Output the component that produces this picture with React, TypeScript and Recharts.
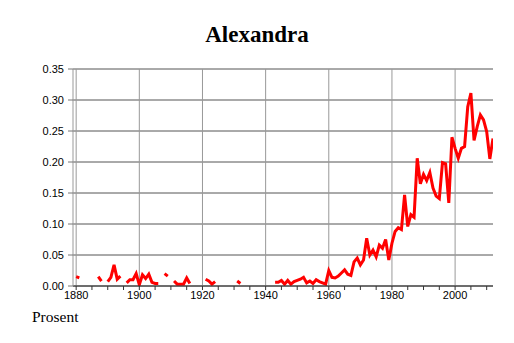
import React from "react";
import { LineChart, Line, XAxis, YAxis, CartesianGrid, ReferenceLine } from "recharts";

const startYear = 1880;
const shares1880s = [0.015, 0.013, null, null, null, null, null, 0.015, 0.008, null];
const shares1890s = [0.007, 0.014, 0.034, 0.011, 0.016, null, 0.005, 0.01, 0.01, 0.02];
const shares1900s = [0.002, 0.018, 0.012, 0.019, 0.006, 0.004, 0.004, null, 0.02, 0.016];
const shares1910s = [null, 0.008, 0.003, 0.003, 0.003, 0.013, 0.004, null, null, null];
const shares1920s = [null, 0.011, 0.008, 0.003, 0.007, null, null, null, null, null];
const shares1930s = [null, 0.008, 0.004, null, null, null, null, null, null, null];
const shares1940s = [null, null, null, 0.006, 0.006, 0.009, 0.003, 0.009, 0.003, 0.007];
const shares1950s = [0.009, 0.011, 0.014, 0.005, 0.008, 0.004, 0.01, 0.007, 0.005, 0.003];
const shares1960s = [0.025, 0.014, 0.013, 0.016, 0.021, 0.026, 0.019, 0.017, 0.039, 0.045];
const shares1970s = [0.034, 0.042, 0.077, 0.05, 0.058, 0.047, 0.066, 0.061, 0.075, 0.042];
const shares1980s = [0.069, 0.088, 0.094, 0.091, 0.147, 0.096, 0.115, 0.111, 0.206, 0.165];
const shares1990s = [0.18, 0.17, 0.183, 0.158, 0.145, 0.141, 0.199, 0.197, 0.134, 0.24];
const shares2000s = [0.222, 0.206, 0.222, 0.225, 0.289, 0.311, 0.235, 0.257, 0.276, 0.268];
const shares2010s = [0.249, 0.205, 0.238];

const shares: (number | null)[] = [
  ...shares1880s, ...shares1890s, ...shares1900s, ...shares1910s, ...shares1920s,
  ...shares1930s, ...shares1940s, ...shares1950s, ...shares1960s, ...shares1970s,
  ...shares1980s, ...shares1990s, ...shares2000s, ...shares2010s,
];

const xTicks = [1880, 1885, 1890, 1895, 1900, 1905, 1910, 1915, 1920, 1925, 1930, 1935, 1940, 1945,
  1950, 1955, 1960, 1965, 1970, 1975, 1980, 1985, 1990, 1995, 2000, 2005, 2010];
const xMajor = [1880, 1900, 1920, 1940, 1960, 1980, 2000];
const yTicks = [0, 0.05, 0.1, 0.15, 0.2, 0.25, 0.3, 0.35];

const title = "Alexandra";
const yLabel = "Prosent";

const data = shares.map((share, i) => ({ year: startYear + i, share }));

const XTick = (props: any) => {
  const { x, y, payload } = props;
  if (!xMajor.includes(payload.value)) return <g />;
  return (
    <text x={x} y={y} dy="0.71em" textAnchor="middle" fontFamily="Liberation Sans, Arial, sans-serif" fontSize={11} fill="#000">
      {payload.value}
    </text>
  );
};

export default function App() {
  return (
    <div style={{ position: "absolute", left: 0, top: 0, width: 514, height: 343, background: "#fff" }}>
      <LineChart width={514} height={343} data={data} margin={{ top: 69, right: 21, bottom: 27, left: 0 }}>
        <CartesianGrid vertical={false} stroke="#555" strokeWidth={1} />
        <XAxis
          dataKey="year"
          type="number"
          domain={[1879, 2012]}
          ticks={xTicks}
          interval={0}
          height={30}
          tick={<XTick />}
          tickSize={4}
          tickMargin={1}
          axisLine={{ stroke: "#333" }}
          tickLine={{ stroke: "#333" }}
          allowDataOverflow
        />
        <YAxis
          domain={[0, 0.35]}
          ticks={yTicks}
          interval={0}
          width={73}
          tickSize={5}
          tickMargin={4}
          tickFormatter={(v: number) => v.toFixed(2)}
          tick={{ fontFamily: "Liberation Sans, Arial, sans-serif", fontSize: 11, fill: "#000" }}
          axisLine={{ stroke: "#999" }}
          tickLine={{ stroke: "#777" }}
          allowDataOverflow
        />
        {xMajor.map((yr) => (
          <ReferenceLine key={yr} x={yr} stroke="#999" strokeWidth={1} />
        ))}
        <Line
          type="linear"
          dataKey="share"
          stroke="#ff0000"
          strokeWidth={3}
          dot={false}
          connectNulls={false}
          isAnimationActive={false}
        />
      </LineChart>
      <svg width={514} height={343} style={{ position: "absolute", left: 0, top: 0, pointerEvents: "none" }}>
        <text x={257} y={41.5} textAnchor="middle" fontFamily="Liberation Serif, Times New Roman, serif" fontWeight="bold" fontSize={23} fill="#000">
          {title}
        </text>
        <text x={32} y={322} fontFamily="Liberation Serif, Times New Roman, serif" fontSize={15.5} fill="#000">
          {yLabel}
        </text>
      </svg>
    </div>
  );
}
